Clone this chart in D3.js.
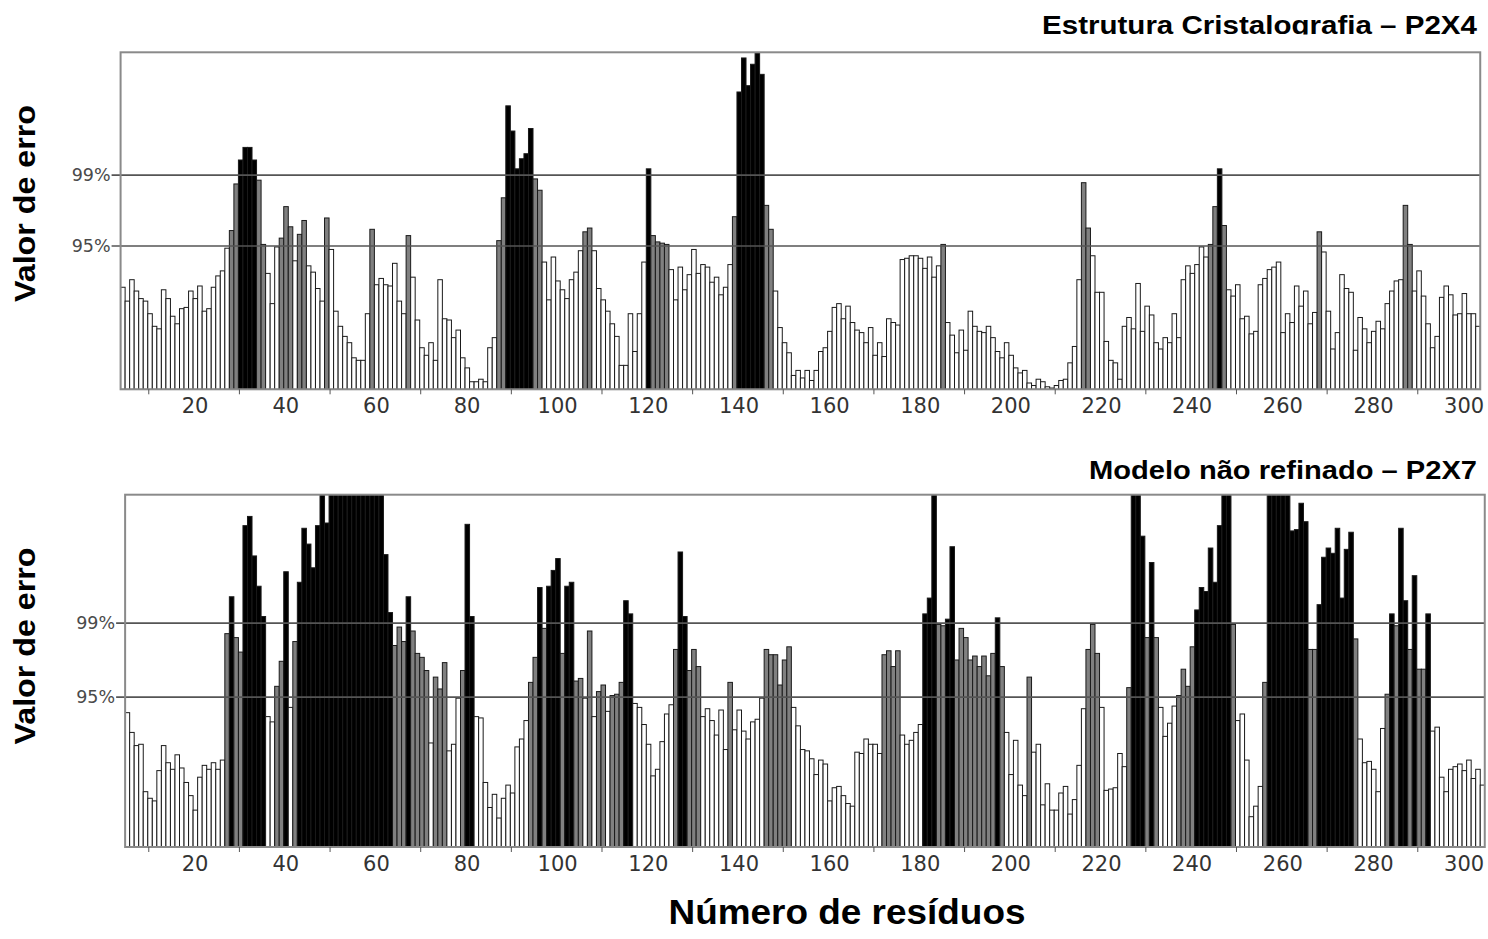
<!DOCTYPE html>
<html>
<head>
<meta charset="utf-8">
<script src="https://cdn.jsdelivr.net/npm/d3@7"></script>
<style>
  body { margin: 0; background: #fff; }
  svg { display: block; font-family: "Liberation Sans", Arial, sans-serif; }
</style>
</head>
<body>
<svg id="chart" width="1488" height="939"></svg>
<script>
// ERRAT error value per residue
var firstResTop = 4;
var errTop = [
  8.1, 7.0, 8.7, 7.8, 7.2, 7.0, 6.0, 5.0, 4.8, 7.9,
  7.2, 5.8, 5.2, 6.4, 6.5, 7.8, 7.2, 8.2, 6.2, 6.4,
  8.1, 9.0, 9.4, 11.2, 12.6, 16.3, 18.2, 19.2, 19.2, 18.2,
  16.6, 11.5, 9.2, 6.8, 11.3, 12.0, 14.5, 12.9, 10.2, 12.3,
  13.4, 9.8, 9.3, 8.0, 7.0, 13.6, 11.1, 6.2, 5.0, 4.2,
  3.7, 2.5, 2.3, 2.3, 6.0, 12.7, 8.3, 8.8, 8.3, 8.2,
  10.0, 7.0, 6.0, 12.2, 8.9, 5.5, 3.3, 2.7, 3.7, 2.3,
  8.7, 5.6, 5.5, 4.1, 4.7, 2.5, 1.7, 0.6, 0.6, 0.8,
  0.6, 3.3, 4.1, 11.8, 15.2, 22.5, 20.5, 17.5, 18.3, 18.7,
  20.7, 16.7, 15.8, 10.1, 7.1, 10.5, 8.6, 7.9, 7.2, 8.7,
  9.3, 11.0, 12.5, 12.8, 11.0, 8.0, 7.1, 6.2, 5.2, 4.2,
  1.9, 1.9, 6.0, 3.0, 6.0, 10.1, 17.5, 12.2, 11.7, 11.6,
  11.5, 9.5, 7.1, 9.7, 7.9, 9.1, 11.1, 9.2, 9.9, 9.7,
  8.5, 8.9, 7.5, 8.1, 9.9, 13.7, 23.6, 26.3, 24.1, 25.8,
  26.7, 25.0, 14.6, 12.7, 7.8, 4.9, 3.7, 2.9, 1.1, 1.5,
  0.9, 1.5, 0.7, 1.5, 3.0, 3.3, 4.6, 6.5, 6.8, 5.6,
  6.6, 5.3, 4.7, 4.5, 3.7, 4.9, 2.7, 3.7, 2.6, 5.6,
  5.3, 5.1, 10.3, 10.4, 10.6, 10.6, 10.4, 9.6, 10.5, 8.9,
  9.8, 11.5, 5.3, 4.3, 2.9, 4.7, 3.1, 6.2, 5.0, 4.6,
  4.5, 5.0, 4.1, 3.0, 2.5, 3.7, 2.7, 1.7, 1.3, 1.5,
  0.5, 0.3, 0.8, 0.6, 0.2, 0.1, 0.3, 0.7, 0.8, 2.1,
  3.4, 8.7, 16.4, 12.8, 10.6, 7.7, 7.7, 3.8, 2.3, 2.1,
  0.8, 5.0, 5.7, 4.8, 8.4, 4.6, 6.6, 5.9, 3.7, 3.2,
  4.1, 3.7, 6.0, 4.1, 8.7, 9.8, 9.2, 9.9, 11.3, 10.5,
  11.5, 14.5, 17.5, 13.0, 7.9, 7.4, 8.3, 5.6, 5.8, 4.4,
  4.6, 8.3, 8.8, 9.5, 9.7, 10.1, 4.5, 6.0, 5.3, 8.2,
  6.6, 7.8, 5.2, 6.1, 12.5, 10.9, 6.2, 3.2, 4.5, 9.1,
  8.0, 7.7, 3.1, 5.7, 4.8, 3.7, 4.6, 5.4, 4.8, 6.8,
  7.8, 8.6, 8.7, 14.6, 11.5, 7.8, 9.4, 7.4, 5.2, 3.3,
  4.2, 7.3, 8.2, 7.5, 5.9, 6.0, 7.6, 6.0, 6.0, 5.0
];

var firstResBottom = 5;
var errBottom = [
  10.2, 8.7, 7.7, 7.8, 4.2, 3.7, 3.5, 5.8, 7.7, 6.4,
  5.9, 7.0, 6.0, 4.9, 3.9, 2.8, 5.3, 6.2, 5.9, 6.4,
  5.9, 6.6, 16.2, 19.0, 15.9, 14.8, 24.4, 25.1, 22.1, 19.8,
  17.5, 9.9, 9.5, 12.2, 14.1, 20.9, 10.6, 15.6, 20.1, 24.2,
  23.0, 21.2, 24.4, 28.0, 24.6, 28.6, 29.4, 30.2, 29.7, 30.5,
  29.9, 30.6, 29.8, 29.2, 28.7, 28.3, 27.8, 22.2, 17.8, 15.3,
  16.7, 15.6, 19.0, 16.4, 14.7, 14.4, 13.4, 7.9, 12.9, 12.0,
  14.0, 7.3, 7.8, 11.3, 13.4, 24.5, 17.5, 9.9, 9.8, 4.9,
  3.0, 4.0, 2.2, 3.7, 4.7, 4.1, 7.6, 8.2, 9.6, 12.5,
  14.4, 19.7, 16.6, 19.8, 21.0, 21.9, 14.7, 19.8, 20.1, 12.6,
  12.8, 11.3, 16.4, 9.9, 11.8, 12.3, 10.3, 11.5, 11.6, 12.5,
  18.7, 17.7, 10.9, 10.6, 9.3, 7.8, 5.4, 5.9, 8.0, 10.1,
  10.8, 15.0, 22.4, 17.5, 13.4, 15.0, 13.7, 9.9, 10.5, 9.6,
  8.5, 10.4, 7.4, 12.5, 8.9, 10.4, 8.8, 8.2, 9.5, 9.7,
  11.3, 15.0, 14.6, 14.6, 12.3, 14.2, 15.2, 10.6, 9.2, 7.4,
  7.3, 6.7, 5.5, 6.6, 6.3, 3.5, 4.5, 4.6, 3.9, 3.3,
  3.1, 7.2, 7.1, 8.2, 7.8, 7.8, 7.1, 14.6, 14.9, 13.7,
  14.9, 8.5, 7.8, 8.1, 8.7, 9.3, 17.7, 18.9, 28.5, 16.9,
  16.8, 17.3, 22.8, 14.2, 16.6, 15.9, 14.2, 14.5, 13.7, 14.5,
  13.0, 14.7, 17.4, 13.7, 8.7, 5.5, 8.1, 4.7, 3.9, 12.9,
  7.2, 7.8, 3.2, 4.8, 2.8, 2.8, 4.1, 4.6, 2.5, 3.6,
  6.2, 10.5, 15.0, 16.9, 14.7, 10.6, 4.3, 4.4, 4.5, 7.1,
  6.1, 12.1, 28.6, 28.0, 23.6, 15.9, 21.6, 15.9, 10.6, 8.4,
  9.4, 10.7, 11.5, 13.5, 12.2, 15.2, 18.0, 19.7, 19.4, 22.7,
  20.1, 24.4, 28.4, 29.0, 16.9, 9.6, 10.1, 6.6, 2.3, 3.1,
  4.6, 12.5, 29.5, 30.0, 29.2, 28.8, 28.1, 24.0, 24.1, 26.1,
  24.7, 15.0, 15.0, 18.4, 22.0, 22.7, 22.3, 24.2, 18.9, 22.6,
  23.9, 15.8, 8.2, 6.4, 6.5, 5.9, 4.2, 9.0, 11.6, 17.7,
  16.8, 24.2, 18.7, 15.0, 20.6, 13.5, 13.5, 17.7, 8.8, 9.1,
  5.3, 4.2, 5.9, 6.1, 6.3, 5.8, 6.6, 5.2, 5.9, 4.7
];

var limitValues = [11.38, 17.0];
var limitLabels = ["95%", "99%"];
var tickResidues = d3.range(20, 301, 20);
var minorResidues = d3.range(10, 301, 20);
var titles = ["Estrutura Cristalografia \u2013 P2X4", "Modelo n\u00e3o refinado \u2013 P2X7"];
var yMax = 26.75;

var svg = d3.select("#chart");

// residue -> pixel, shared by both plots
var x = d3.scaleLinear().domain([20, 300]).range([193.1, 1462.1]);
var step = x(1) - x(0);

var panels = [
  { values: errTop, first: firstResTop, top: 52.3, bottom: 389.3, title: titles[0],
    titleY: 33.5, titleLen: 435, labelY: 203.5, clipTitle: true },
  { values: errBottom, first: firstResBottom, top: 494.7, bottom: 847, title: titles[1],
    titleY: 479, titleLen: 388, labelY: 646, clipTitle: false }
];

function barColor(v) {
  if (v >= limitValues[1]) return "#000";
  if (v >= limitValues[0]) return "#808080";
  return "#fff";
}

var defs = svg.append("defs");
defs.append("clipPath").attr("id", "titleClip")
  .append("rect").attr("x", 0).attr("y", 0).attr("width", 1488).attr("height", 34.5);

panels.forEach(function(p, k) {
  var y = d3.scaleLinear().domain([0, yMax]).range([p.bottom, p.top]);
  var left = x(p.first),
      right = x(p.first + p.values.length);

  defs.append("clipPath").attr("id", "plotClip" + k)
    .append("rect")
    .attr("x", left).attr("y", p.top)
    .attr("width", right - left).attr("height", p.bottom - p.top);

  var g = svg.append("g");

  // bars
  g.append("g")
    .attr("clip-path", "url(#plotClip" + k + ")")
    .selectAll("rect")
    .data(p.values)
    .enter().append("rect")
    .attr("x", function(d, i) { return x(p.first + i); })
    .attr("y", function(d) { return y(d); })
    .attr("width", step)
    .attr("height", function(d) { return p.bottom - y(d); })
    .attr("fill", barColor)
    .attr("stroke", "#1a1a1a")
    .attr("stroke-width", 1);

  // 95% / 99% lines
  g.selectAll(".limit")
    .data(limitValues)
    .enter().append("line")
    .attr("x1", left - 9).attr("x2", right)
    .attr("y1", function(d) { return y(d); })
    .attr("y2", function(d) { return y(d); })
    .attr("stroke", "#555")
    .attr("stroke-width", 1.6);

  g.selectAll(".limitLabel")
    .data(limitValues)
    .enter().append("text")
    .attr("x", left - 10)
    .attr("y", function(d) { return y(d); })
    .attr("dy", "0.36em")
    .attr("text-anchor", "end")
    .style("font-family", "'DejaVu Sans', sans-serif")
    .style("font-size", "17.5px")
    .attr("fill", "#4a4a4a")
    .text(function(d, i) { return limitLabels[i]; });

  // frame
  g.append("rect")
    .attr("x", left).attr("y", p.top)
    .attr("width", right - left).attr("height", p.bottom - p.top)
    .attr("fill", "none")
    .attr("stroke", "#8a8a8a")
    .attr("stroke-width", 2);

  // x ticks
  g.selectAll(".minor")
    .data(minorResidues)
    .enter().append("line")
    .attr("x1", function(d) { return x(d) + 1; })
    .attr("x2", function(d) { return x(d) + 1; })
    .attr("y1", p.bottom).attr("y2", p.bottom + 5)
    .attr("stroke", "#555");

  g.selectAll(".tickLabel")
    .data(tickResidues)
    .enter().append("text")
    .attr("x", function(d) { return x(d) + 2; })
    .attr("y", p.bottom + 24)
    .attr("text-anchor", "middle")
    .style("font-family", "'DejaVu Sans', sans-serif")
    .style("font-size", "21px")
    .attr("fill", "#333")
    .text(function(d) { return d; });

  // titles
  var t = svg.append("text")
    .attr("x", 1477)
    .attr("y", p.titleY)
    .attr("text-anchor", "end")
    .attr("textLength", p.titleLen)
    .attr("lengthAdjust", "spacingAndGlyphs")
    .style("font-size", "26px")
    .style("font-weight", "bold")
    .text(p.title);
  if (p.clipTitle) t.attr("clip-path", "url(#titleClip)");

  svg.append("text")
    .attr("transform", "translate(35," + p.labelY + ") rotate(-90)")
    .attr("text-anchor", "middle")
    .attr("textLength", 197)
    .attr("lengthAdjust", "spacingAndGlyphs")
    .style("font-size", "29px")
    .style("font-weight", "bold")
    .text("Valor de erro");
});

svg.append("text")
  .attr("x", 847)
  .attr("y", 924)
  .attr("text-anchor", "middle")
  .attr("textLength", 357)
  .attr("lengthAdjust", "spacingAndGlyphs")
  .style("font-size", "35px")
  .style("font-weight", "bold")
  .text("N\u00famero de res\u00edduos");
</script>
</body>
</html>
